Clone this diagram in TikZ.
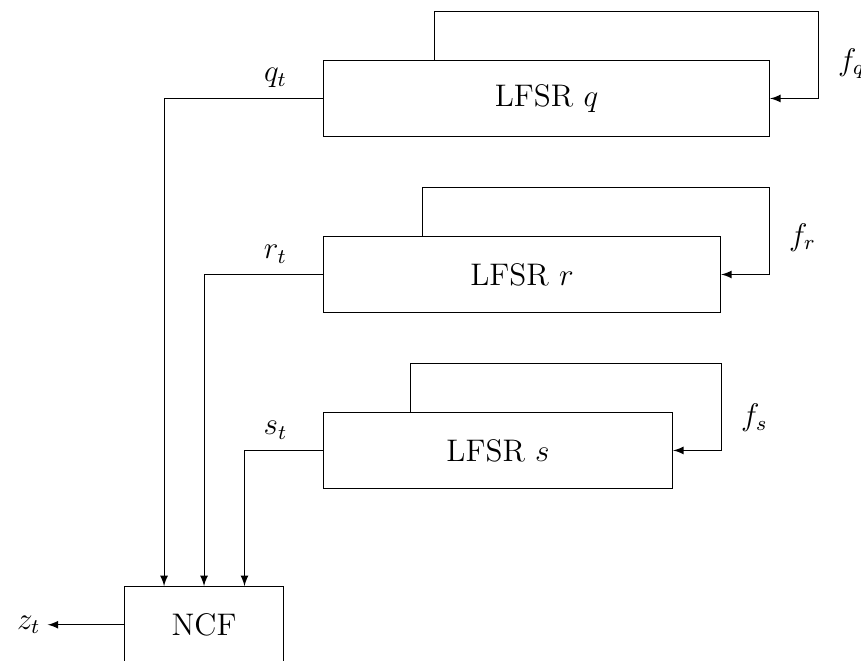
\documentclass[tikz,border=0pt,12pt]{standalone}
\usetikzlibrary{arrows,calc}

\begin{document}
\begin{tikzpicture}[->,>=latex,auto,
        lfsr/.style={draw,->=,rectangle,minimum height=1.03cm,inner sep=0pt},
        fb/.style={right,xshift=0.12cm}]
    \useasboundingbox (0,0) rectangle (11.635,8.932);

    \node[lfsr,minimum width=6.03cm] (q) at (7.385,7.601) {LFSR $q$};
    \node[lfsr,minimum width=5.37cm] (r) at (7.054,5.223) {LFSR $r$};
    \node[lfsr,minimum width=4.72cm] (s) at (6.730,2.845) {LFSR $s$};
    \node[lfsr,minimum width=2.15cm] (ncf) at (2.757,0.490) {NCF};

    % feedback
    \draw ($(q.north west)!.25!(q.north east)$) -- ++(0,0.65) -| ([xshift=0.65cm]q.east) -- (q.east);
    \draw ($(r.north west)!.25!(r.north east)$) -- ++(0,0.65) -| ([xshift=0.65cm]r.east) -- (r.east);
    \draw ($(s.north west)!.25!(s.north east)$) -- ++(0,0.65) -| ([xshift=0.65cm]s.east) -- (s.east);
    \node[fb] at ([xshift=0.65cm,yshift=-0.05cm]q.north east) {$f_q$};
    \node[fb] at ([xshift=0.65cm,yshift=-0.02cm]r.north east) {$f_r$};
    \node[fb] at ([xshift=0.65cm,yshift=-0.08cm]s.north east) {$f_s$};

    % outputs
    \draw (q.west) -| ([xshift=-0.54cm]ncf.north);
    \draw (r.west) -| (ncf.north);
    \draw (s.west) -| ([xshift=0.547cm]ncf.north);
    \node[anchor=south] at ([xshift=-0.64cm]q.west) {$q_t$};
    \node[anchor=south] at ([xshift=-0.64cm]r.west) {$r_t$};
    \node[anchor=south] at ([xshift=-0.64cm]s.west) {$s_t$};

    \draw (ncf.west) -- ++(-1.03,0) node[left,xshift=0.05cm] {$z_t$};

\end{tikzpicture}
\end{document}
